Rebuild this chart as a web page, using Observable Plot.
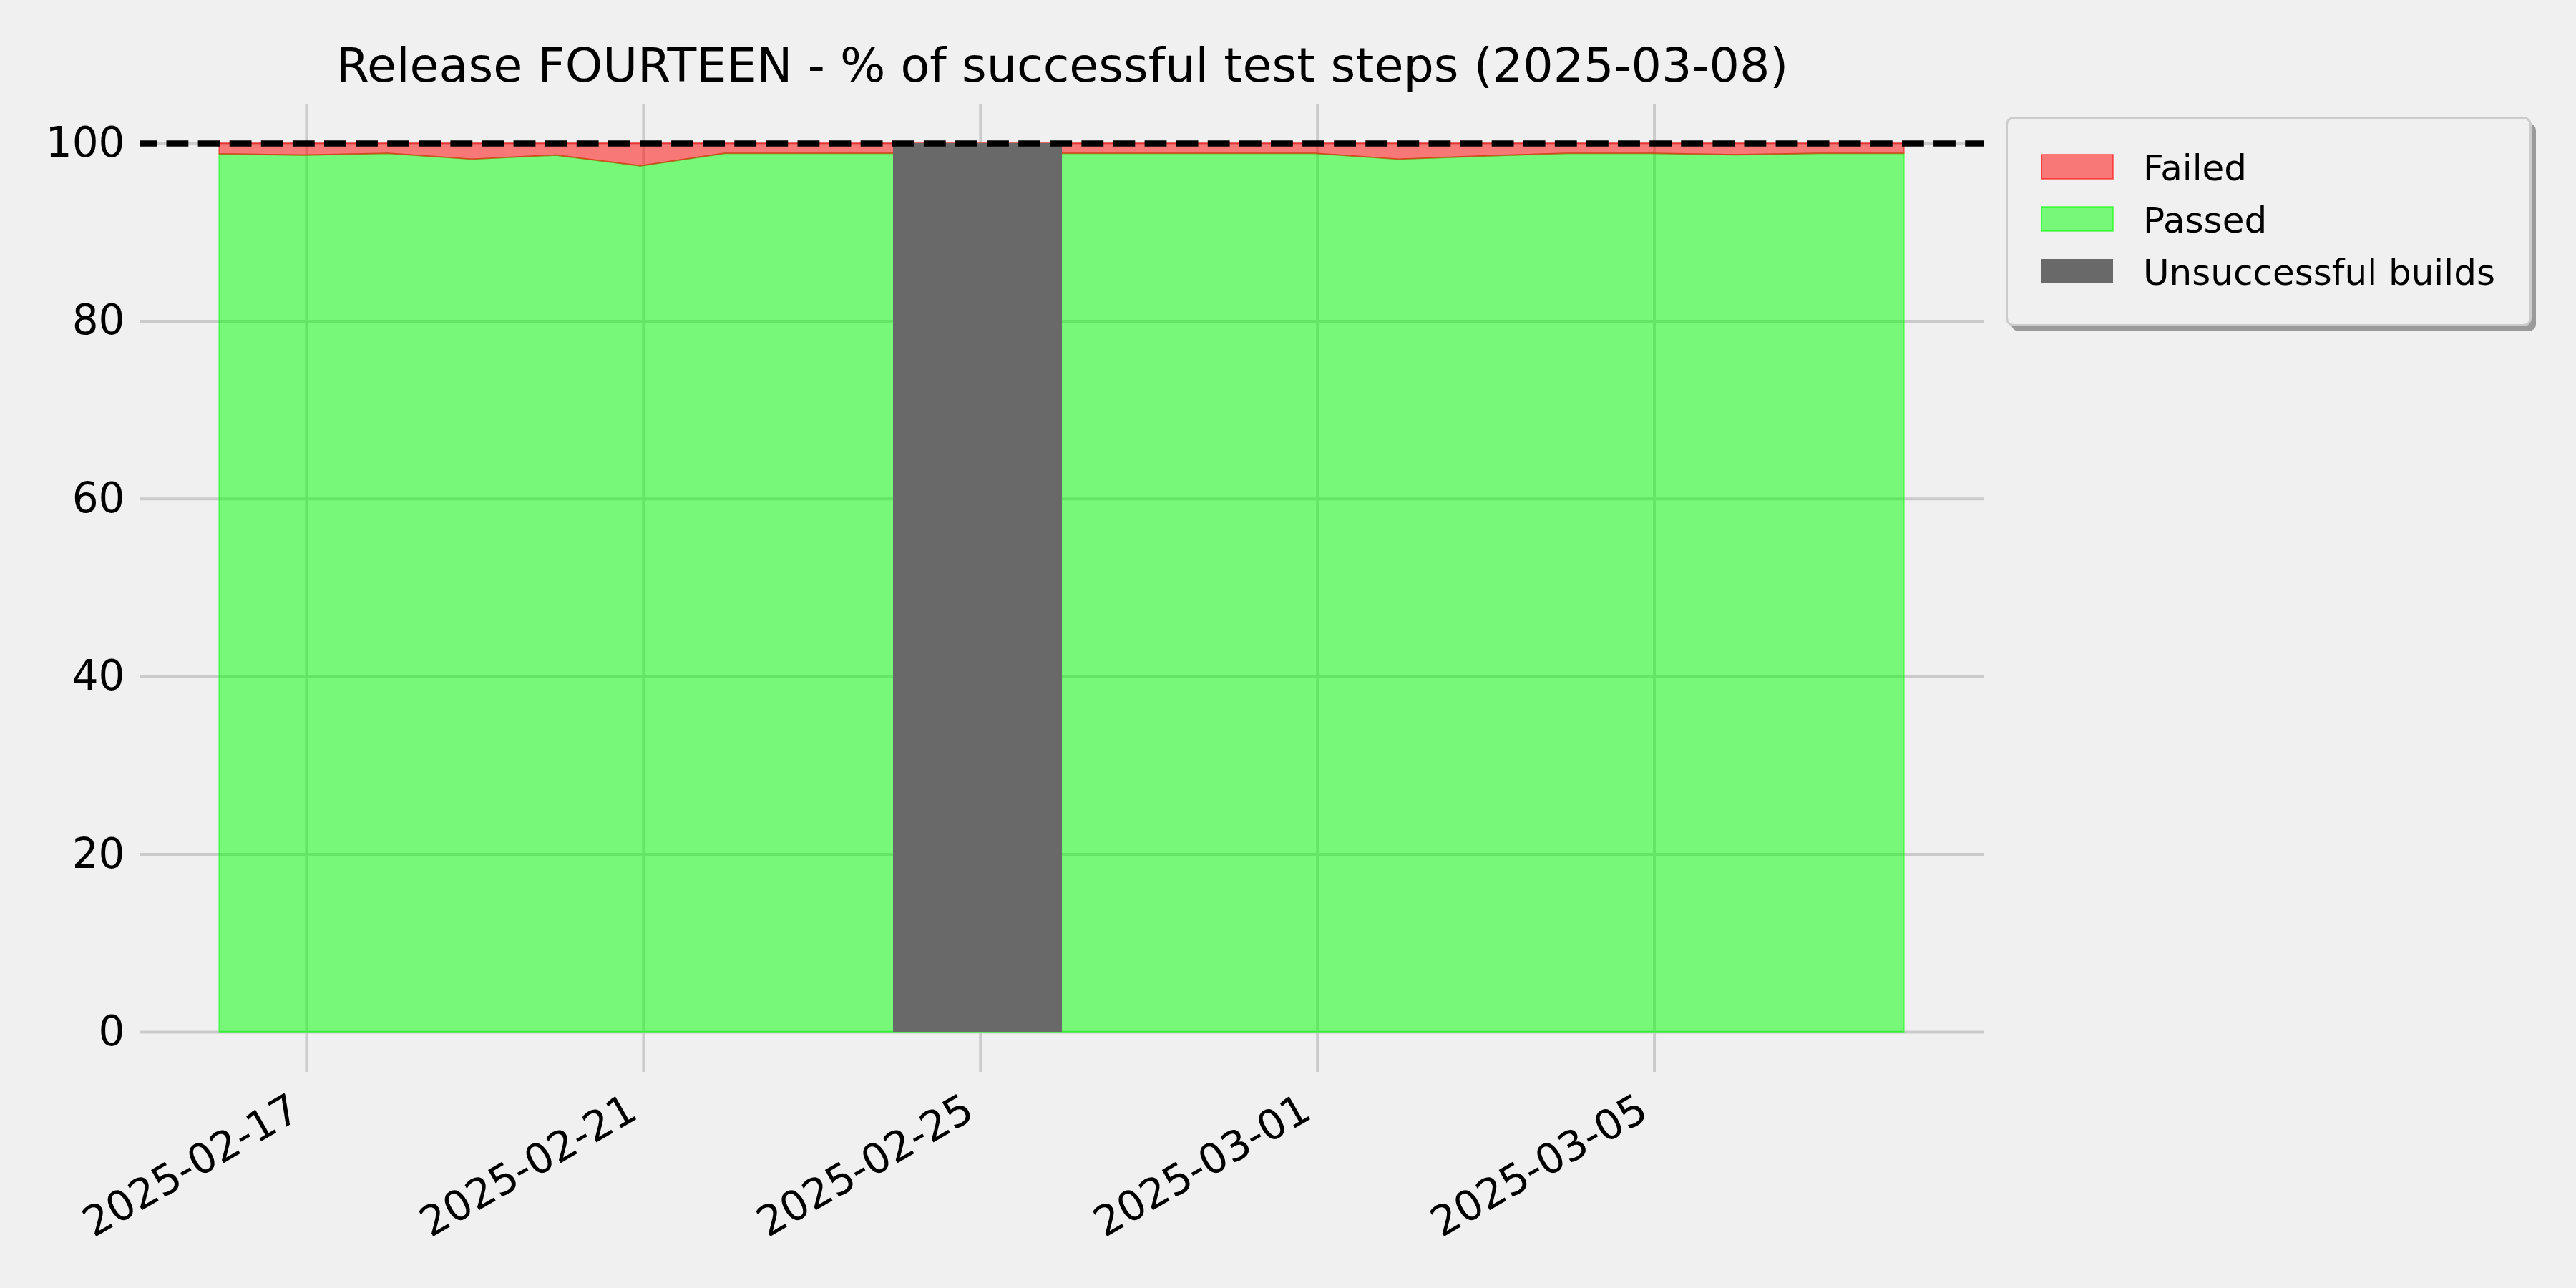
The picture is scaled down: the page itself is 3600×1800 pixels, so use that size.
<!DOCTYPE html>
<html><head><meta charset="utf-8">
<script src="https://cdn.jsdelivr.net/npm/d3@7"></script>
<script src="https://cdn.jsdelivr.net/npm/@observablehq/plot@0.6"></script>
<style>
html,body{margin:0;padding:0;background:#f0f0f0;}
#wrap{position:relative;width:3600px;height:1800px;overflow:hidden;font-family:"DejaVu Sans";}
#wrap svg{position:absolute;}
</style></head><body><div id="wrap"></div>
<script>
const title = "Release FOURTEEN - % of successful test steps (2025-03-08)";
const dates = ["2025-02-16","2025-02-17","2025-02-18","2025-02-19","2025-02-20","2025-02-21","2025-02-22",
  "2025-02-23","2025-02-24","2025-02-25","2025-02-26","2025-02-27","2025-02-28","2025-03-01",
  "2025-03-02","2025-03-03","2025-03-04","2025-03-05","2025-03-06","2025-03-07","2025-03-08"];
const passed = [98.8, 98.66, 98.85, 98.2, 98.66, 97.45, 98.85, 98.85, 98.85, 98.85, 98.85, 98.85, 98.85, 98.85,
  98.2, 98.55, 98.85, 98.85, 98.7, 98.85, 98.85];
const failed = [1.2, 1.34, 1.15, 1.8, 1.34, 2.55, 1.15, 1.15, 1.15, 1.15, 1.15, 1.15, 1.15, 1.15,
  1.8, 1.45, 1.15, 1.15, 1.3, 1.15, 1.15];
const unsuccessfulBuilds = ["2025-02-24", "2025-02-25"];
const yTicks = [0, 20, 40, 60, 80, 100];
const xTickLabels = ["2025-02-17", "2025-02-21", "2025-02-25", "2025-03-01", "2025-03-05"];
const target = 100;
const legendItems = [
  {label: "Failed", fill: "rgba(255,0,0,0.5)", stroke: "rgba(255,0,0,0.5)"},
  {label: "Passed", fill: "rgba(0,255,0,0.5)", stroke: "rgba(0,255,0,0.5)"},
  {label: "Unsuccessful builds", fill: "#696969", stroke: "none"}
];

const parse = d3.utcParse("%Y-%m-%d");
const rows = dates.map((d, i) => ({date: parse(d), passed: passed[i], failed: failed[i]}));
const bad = unsuccessfulBuilds.map(parse);
const xTicks = xTickLabels.map(parse);

const chart = Plot.plot({
  width: 3600, height: 1800,
  marginLeft: 196, marginRight: 828, marginTop: 145, marginBottom: 302,
  style: {background: "transparent", fontFamily: "DejaVu Sans", color: "black", overflow: "visible"},
  x: {type: "utc", domain: [new Date(Date.UTC(2025,1,15,0,42)), new Date(Date.UTC(2025,2,8,21,52))]},
  y: {domain: [-4.51, 104.43]},
  marks: [
    Plot.gridY(yTicks, {stroke: "#cbcbcb", strokeOpacity: 1, strokeWidth: 4}),
    Plot.gridX(xTicks, {stroke: "#cbcbcb", strokeOpacity: 1, strokeWidth: 4}),
    Plot.areaY(rows, {x: "date", y1: 0, y2: "passed", dx: -4, fill: "#00ff00", fillOpacity: 0.5,
      stroke: "#00ff00", strokeOpacity: 0.5, strokeWidth: 2}),
    Plot.areaY(rows, {x: "date", y1: "passed", y2: d => d.passed + d.failed, dx: -4, fill: "#ff0000", fillOpacity: 0.5,
      stroke: "#ff0000", strokeOpacity: 0.5, strokeWidth: 2}),
    Plot.rectY(bad, {x1: d => d, x2: d => d3.utcDay.offset(d, 1), y1: 0, y2: target, dx: -4, fill: "#696969", shapeRendering: "crispEdges"}),
    Plot.ruleY([target], {stroke: "black", strokeWidth: 8.3, strokeDasharray: "30.8 13.3", strokeDashoffset: 7.6}),
    Plot.axisY(yTicks, {tickSize: 0, tickPadding: 22, fontSize: 58, label: null, fill: "black"}),
    Plot.axisX(xTicks, {tickSize: 0, tickPadding: 47, dx: -15, tickRotate: -30, fontSize: 58, label: null,
      fill: "black", tickFormat: d3.utcFormat("%Y-%m-%d")}),
    Plot.text([title], {frameAnchor: "top", lineAnchor: "bottom", dy: -32, fontSize: 66.7, fill: "black"})
  ]
});
chart.style.left = "0px"; chart.style.top = "0px";
const wrap = document.getElementById("wrap");
wrap.appendChild(chart);

// legend
const lg = d3.select(wrap).append("svg")
  .attr("width", 760).attr("height", 330)
  .style("left", "2795px").style("top", "155px");
lg.append("rect").attr("x", 16).attr("y", 17).attr("width", 733).attr("height", 291).attr("rx", 10)
  .attr("fill", "#9a9a9a");
lg.append("rect").attr("x", 9.5).attr("y", 9.5).attr("width", 732).attr("height", 290).attr("rx", 10)
  .attr("fill", "#f0f0f0").attr("stroke", "#cccccc").attr("stroke-width", 3);
legendItems.forEach((it, i) => {
  lg.append("rect").attr("x", 58).attr("y", 61 + i * 73).attr("width", 100).attr("height", 34)
    .attr("fill", it.fill).attr("stroke", it.stroke).attr("stroke-width", 2);
  lg.append("text").attr("x", 200).attr("y", 97 + i * 73).attr("font-size", 50)
    .attr("font-family", "DejaVu Sans").attr("fill", "black").text(it.label);
});
</script></body></html>
